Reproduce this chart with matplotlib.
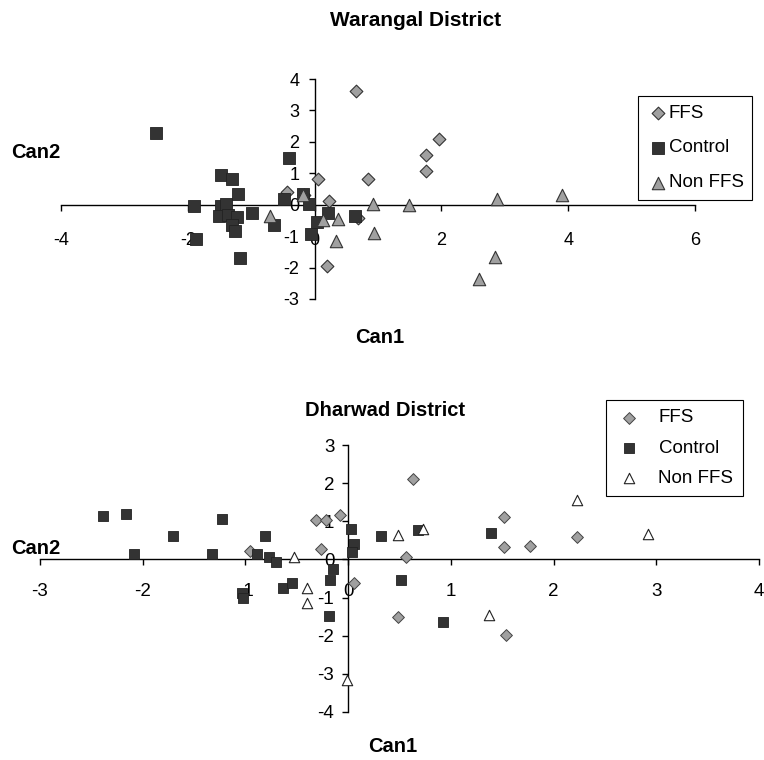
import matplotlib.pyplot as plt

plt.rcParams['font.family'] = ['Liberation Sans', 'DejaVu Sans']
plt.rcParams['axes.unicode_minus'] = False

# Warangal District (Can1, Can2)
war_ffs_x = [0.65, 0.06, 0.84, -0.43, -0.16, 0.23, 0.20, 0.68, 1.76, 1.75, 1.97]
war_ffs_y = [3.62, 0.83, 0.81, 0.40, 0.30, 0.11, -1.95, -0.41, 1.59, 1.06, 2.09]
war_ctl_x = [-2.50, -1.90, -1.87, -1.48, -1.30, -1.21, -1.48, -1.40, -1.50, -1.37,
             -1.23, -1.30, -1.26, -1.18, -0.99, -0.64, -0.41, -0.48, -0.19, -0.09,
             0.03, 0.21, -0.05, 0.63]
war_ctl_y = [2.28, -0.04, -1.10, 0.93, 0.83, 0.34, -0.04, 0.01, -0.37, -0.32,
             -0.39, -0.64, -0.84, -1.69, -0.25, -0.65, 1.48, 0.18, 0.35, 0.01,
             -0.55, -0.27, -0.92, -0.35]
war_non_x = [-0.70, -0.19, 0.13, 0.37, 0.33, 0.92, 0.94, 1.49, 2.88, 3.90, 2.84, 2.59]
war_non_y = [-0.37, 0.31, -0.48, -0.46, -1.16, 0.02, -0.90, -0.02, 0.19, 0.30, -1.67, -2.36]

# Dharwad District (Can1, Can2)
dha_ffs_x = [-0.96, -0.31, -0.22, -0.08, -0.26, 0.06, 0.63, 0.56, 0.49, 1.52,
             1.52, 1.77, 2.23, 1.54]
dha_ffs_y = [0.23, 1.03, 1.03, 1.16, 0.27, -0.63, 2.10, 0.07, -1.51, 1.12,
             0.33, 0.36, 0.58, -1.97]
dha_ctl_x = [-2.39, -2.16, -2.08, -1.71, -1.33, -1.23, -1.03, -1.02, -0.81, -0.89,
             -0.77, -0.70, -0.63, -0.55, -0.18, -0.15, -0.19, 0.03, 0.06, 0.04,
             0.32, 0.68, 0.51, 0.92, 1.39]
dha_ctl_y = [1.14, 1.19, 0.13, 0.61, 0.13, 1.07, -0.89, -1.02, 0.61, 0.13,
             0.07, -0.07, -0.74, -0.63, -0.54, -0.25, -1.48, 0.79, 0.40, 0.20,
             0.61, 0.76, -0.53, -1.64, 0.68]
dha_non_x = [-0.53, -0.40, -0.40, 0.49, 0.73, 2.23, 2.92, 1.37, -0.01]
dha_non_y = [0.07, -0.74, -1.14, 0.64, 0.79, 1.56, 0.66, -1.46, -3.17]

W, H = 764, 760
fig = plt.figure(figsize=(W / 100, H / 100), dpi=100)


def box(x0, y0, x1, y1):
    # pixel box (top-left origin) -> figure fraction rect
    return [x0 / W, 1 - y1 / H, (x1 - x0) / W, (y1 - y0) / H]


def setup(ax, xlim, ylim, xpad, ypad, fs):
    ax.set_xlim(*xlim)
    ax.set_ylim(*ylim)
    ax.spines['left'].set_position('zero')
    ax.spines['bottom'].set_position('zero')
    ax.spines['top'].set_visible(False)
    ax.spines['right'].set_visible(False)
    for s in ('left', 'bottom'):
        ax.spines[s].set_linewidth(1.0)
    ax.set_xticks(range(xlim[0], xlim[1] + 1, 2 if xlim[1] - xlim[0] > 8 else 1))
    ax.set_yticks(range(ylim[0], ylim[1] + 1))
    ax.tick_params(axis='x', direction='out', length=4, width=1, pad=xpad, labelsize=fs)
    ax.tick_params(axis='y', direction='out', length=4, width=1, pad=ypad, labelsize=fs)
    ax.patch.set_alpha(0)


# ---- top chart ----
ax1 = fig.add_axes(box(61, 79, 695, 299))
setup(ax1, (-4, 6), (-3, 4), 16, 7, 13)
ax1.scatter(war_ffs_x, war_ffs_y, marker='D', s=42, c='#a0a0a0', edgecolors='#333333',
            linewidths=0.8, label='FFS', zorder=3)
ax1.scatter(war_ctl_x, war_ctl_y, marker='s', s=80, c='#333333', edgecolors='#222222',
            linewidths=0.6, label='Control', zorder=4)
ax1.scatter(war_non_x, war_non_y, marker='^', s=80, c='#a0a0a0', edgecolors='#333333',
            linewidths=0.8, label='Non FFS', zorder=5)
ax1.legend(loc='upper left', bbox_to_anchor=(638 / W, 1 - 96 / H), bbox_transform=fig.transFigure,
           frameon=True, fancybox=False, edgecolor='black', framealpha=1, fontsize=13.5,
           handletextpad=0.0, labelspacing=0.95, borderpad=0.45, handlelength=1.2,
           borderaxespad=0).get_frame().set_linewidth(0.8)
fig.text(416 / W, 1 - 20 / H, 'Warangal District', ha='center', va='center',
         fontsize=15, fontweight='bold')
fig.text(36 / W, 1 - 152 / H, 'Can2', ha='center', va='center', fontsize=14.5, fontweight='bold')
fig.text(380 / W, 1 - 338 / H, 'Can1', ha='center', va='center', fontsize=14.5, fontweight='bold')

# ---- bottom chart ----
ax2 = fig.add_axes(box(40, 445, 759, 712))
setup(ax2, (-3, 4), (-4, 3), 13, 6, 13.5)
ax2.scatter(dha_ffs_x, dha_ffs_y, marker='D', s=36, c='#a0a0a0', edgecolors='#444444',
            linewidths=0.7, label='FFS', zorder=3)
ax2.scatter(dha_ctl_x, dha_ctl_y, marker='s', s=62, c='#333333', edgecolors='#222222',
            linewidths=0.6, label='Control', zorder=4)
ax2.scatter(dha_non_x, dha_non_y, marker='^', s=56, c='white', edgecolors='#222222',
            linewidths=0.8, label='Non FFS', zorder=5)
ax2.legend(loc='upper left', bbox_to_anchor=(606 / W, 1 - 400 / H), bbox_transform=fig.transFigure,
           frameon=True, fancybox=False, edgecolor='black', framealpha=1, fontsize=13.5,
           handletextpad=0.8, labelspacing=0.7, borderpad=0.5, handlelength=1.5,
           borderaxespad=0).get_frame().set_linewidth(0.8)
fig.text(385 / W, 1 - 411 / H, 'Dharwad District', ha='center', va='center',
         fontsize=14.5, fontweight='bold')
fig.text(36 / W, 1 - 549 / H, 'Can2', ha='center', va='center', fontsize=14.5, fontweight='bold')
fig.text(393 / W, 1 - 747 / H, 'Can1', ha='center', va='center', fontsize=14.5, fontweight='bold')

fig.savefig('out.png', dpi=100)
